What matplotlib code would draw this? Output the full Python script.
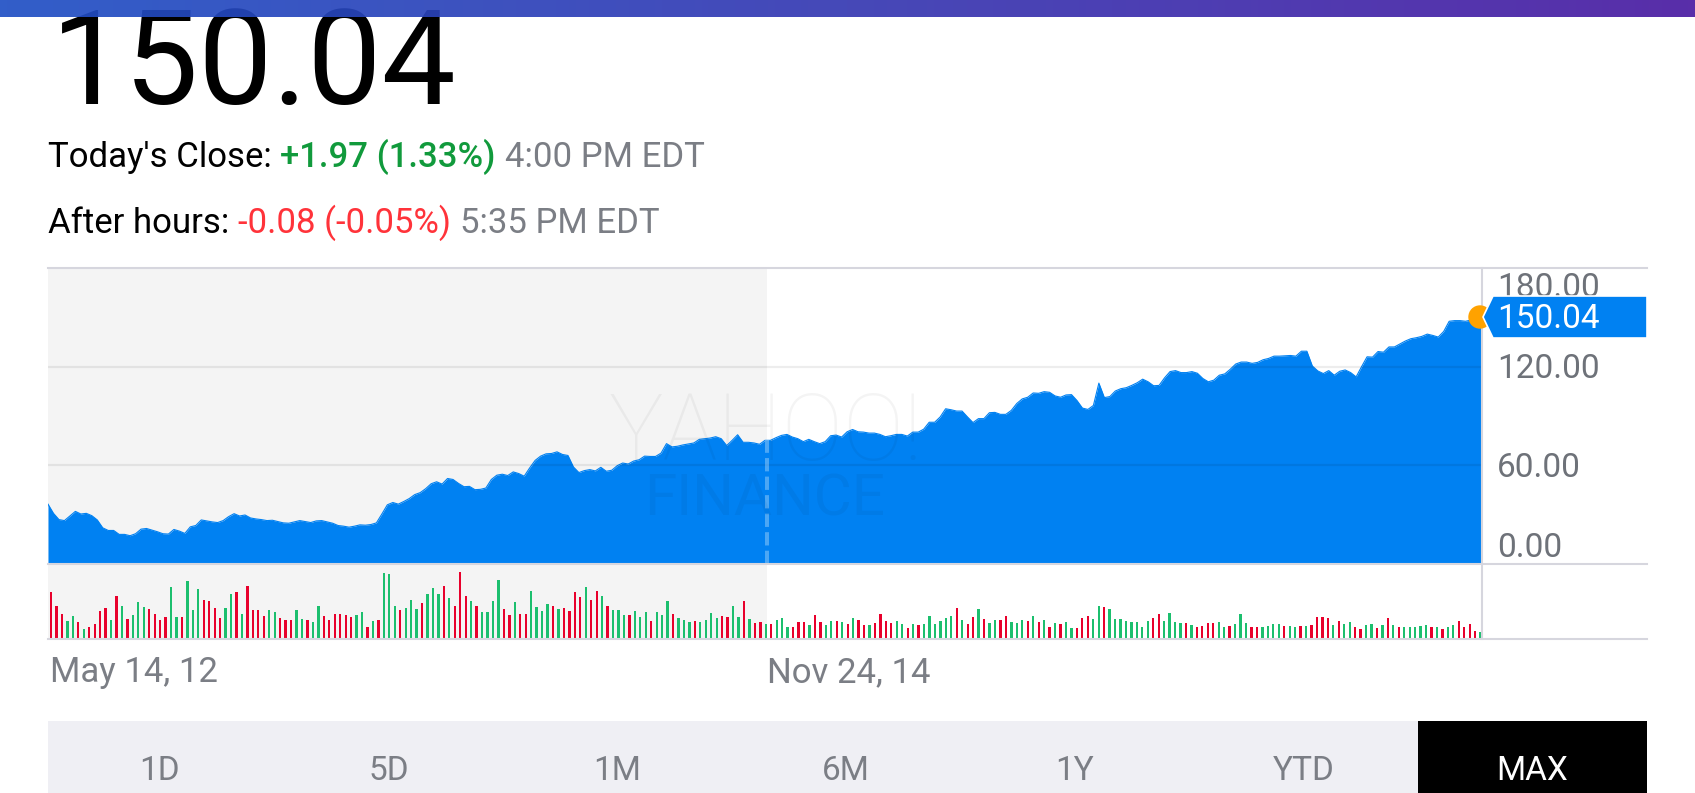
import numpy as np
import matplotlib
matplotlib.use("Agg")
import matplotlib.pyplot as plt
from matplotlib.patches import Rectangle, Polygon, Circle
from matplotlib.lines import Line2D
from matplotlib.transforms import Affine2D
from matplotlib.colors import LinearSegmentedColormap

plt.rcParams["font.family"] = ["Roboto", "DejaVu Sans"]

# weekly closing price, May 14 2012 onwards
price = [
    36.4, 30.8, 27.0, 26.4, 29.2, 32.0, 30.4, 30.8, 29.4, 26.8,
    22.0, 20.4, 20.4, 18.0, 18.0, 17.2, 18.4, 21.2, 21.6, 20.6,
    19.6, 18.4, 18.2, 21.0, 20.0, 18.6, 22.6, 23.4, 26.8, 26.2,
    25.6, 25.2, 26.4, 28.8, 30.6, 29.2, 29.8, 28.0, 27.4, 27.0,
    26.4, 26.6, 25.8, 25.0,
    24.8, 25.6, 26.4, 25.8, 25.2, 26.2, 26.4, 25.6, 24.8, 23.4,
    23.0, 22.4, 23.0, 23.8, 23.6, 24.0, 25.0, 30.4, 36.0, 37.4,
    36.4, 38.0, 39.8, 42.2, 43.4, 45.8, 48.8, 50.0, 48.6, 52.0,
    51.4, 49.0, 47.0, 47.2, 45.2, 45.4, 46.2, 51.4, 54.0, 54.6,
    53.8, 56.0, 55.0, 53.4,
    58.4, 63.0, 65.6, 67.0, 67.2, 68.2, 66.6, 66.0, 59.0, 55.6,
    56.8, 57.4, 56.6, 58.8, 56.4, 57.0, 59.8, 61.4, 60.8, 62.6,
    63.4, 65.6, 65.4, 65.4, 67.4, 73.2, 71.2, 71.6, 72.4, 73.0,
    73.6, 75.8, 76.2, 76.6, 77.4, 76.2, 72.0, 75.2, 78.6, 74.0,
    74.0, 73.6, 72.8,
    75.2, 75.2, 76.8, 78.2, 78.8, 77.2, 76.2, 74.4, 75.8, 74.4,
    73.2, 74.4, 78.0, 78.4, 77.2, 80.4, 81.8, 80.4, 80.2, 79.6,
    79.6, 78.8, 77.4, 78.0, 78.8, 78.8, 77.8, 80.2, 80.2, 82.0,
    86.2, 86.2, 89.4, 94.4, 93.8, 93.0, 93.0, 89.4, 86.0, 88.4,
    88.4, 92.0, 92.2, 91.0,
    91.0, 93.4, 97.6, 100.4, 101.4, 104.0, 103.8, 104.8, 104.4, 102.2,
    101.4, 102.8, 103.0, 99.4, 94.8, 94.0, 96.4, 110.0, 101.2, 101.8,
    105.2, 106.6, 107.2, 108.6, 110.2, 112.4, 110.8, 108.4, 108.6, 113.2,
    117.0, 117.6, 116.4, 116.4, 117.0, 116.0, 112.8, 110.8, 111.8, 114.8,
    115.6, 118.4, 121.6, 122.8,
    122.8, 122.0, 122.6, 124.2, 125.0, 126.4, 126.4, 126.6, 126.8, 126.4,
    129.4, 129.4, 120.4, 117.4, 115.8, 117.6, 114.8, 117.2, 118.0, 116.4,
    113.8, 120.0, 126.0, 125.8, 129.2, 128.8, 132.0, 132.0, 133.8, 135.6,
    137.0, 137.6, 138.4, 139.8, 139.0, 138.0, 141.4, 147.6, 148.0, 148.0,
    147.6, 148.4, 149.2, 150.04,
]

# weekly volume (millions) and up/down week flag
volume = [
    457, 323, 243, 167, 223, 160, 90, 110, 143, 267,
    300, 177, 423, 317, 190, 230, 363, 307, 290, 240,
    180, 210, 510, 210, 210, 573, 283, 493, 380, 373,
    300, 203, 300, 443, 460, 240, 517, 283, 283, 217,
    283, 260, 200, 177,
    183, 283, 193, 183, 160, 323, 217, 183, 243, 243,
    227, 210, 227, 260, 110, 167, 183, 650, 643, 323,
    277, 300, 377, 290, 350, 443, 500, 440, 517, 397,
    317, 657, 417, 370, 317, 263, 263, 370, 583, 290,
    227, 363, 243, 243,
    473, 307, 273, 337, 323, 290, 300, 273, 457, 413,
    513, 377, 467, 420, 323, 280, 280, 227, 227, 270,
    210, 263, 167, 263, 227, 367, 243, 200, 183, 157,
    167, 163, 183, 253, 200, 220, 207, 317, 210, 367,
    193, 153, 157, 140,
    143, 183, 203, 110, 107, 160, 163, 127, 233, 163,
    130, 167, 170, 157, 137, 200, 183, 127, 127, 150,
    240, 167, 147, 173, 140, 100, 143, 127, 140, 223,
    143, 167, 197, 220, 300, 183, 143, 210, 290, 190,
    150, 183, 183, 223,
    160, 150, 183, 167, 223, 163, 183, 107, 153, 143,
    163, 100, 103, 200, 223, 190, 317, 307, 290, 190,
    190, 170, 160, 160, 113, 170, 197, 240, 170, 253,
    163, 150, 153, 133, 107, 117, 153, 153, 163, 113,
    123, 140, 237, 150,
    110, 110, 110, 117, 140, 137, 123, 117, 107, 117,
    117, 130, 210, 210, 197, 130, 173, 143, 157, 110,
    93, 130, 143, 103, 133, 203, 130, 110, 113, 113,
    113, 123, 130, 110, 110, 90, 113, 130, 170, 110,
    140, 70, 63,
]
up = ("rrrggrgrrrrgrgrgggrrrrggrgggrrrrggrgrrrrggrr"
      "rggrggrrrrrrggrgrgggrgggrgggrgrrrgrggggrrgrr"
      "ggggrgrrrrgrrgrgggrgggrgggrgggrggggrrggrgrrg"
      "rgggrrrgrrggrgrgrrgrrrrggrgrggggggrgrrgrggrr"
      "gggrgrgrgrggrrrggrggggggggrrggggrgrrrrggrggg"
      "rrggggrggrgrrrrgrggrrggrgrgrgggggrgrggrrrrg")

date_ticks = [0, 131]
date_labels = ["May 14, 12", "Nov 24, 14"]
y_ticks = [0, 60, 120, 180]
last_close = 150.04
ranges = ["1D", "5D", "1M", "6M", "1Y", "YTD", "MAX"]

BLUE = "#0081f2"
GREEN_V = "#1cbf6e"
RED_V = "#e8002c"
GRAY = "#7b7e85"
FRAME = "#d6d6de"

W, H = 1695, 793
fig = plt.figure(figsize=(W / 100, H / 100), dpi=100)
fig.patch.set_facecolor("white")
T = Affine2D().scale(1 / W, -1 / H).translate(0, 1) + fig.transFigure

# shaded (older) part of the chart
fig.add_artist(Rectangle((48, 268), 767 - 48, 639 - 268, transform=T,
                         color="#f4f4f4", lw=0, zorder=-1))

ax = fig.add_axes([48 / W, 1 - 564 / H, 1434 / W, 296 / H])
ax.set_facecolor("none")
weeks = np.arange(len(price))
ax.fill_between(weeks, price, 0, color=BLUE, lw=0, zorder=2)
ax.plot(weeks, price, color=BLUE, lw=0.8, zorder=2)
for g in y_ticks[1:-1]:
    ax.axhline(g, color="k", alpha=0.07, lw=1.6, zorder=3)
ax.vlines(date_ticks[1] + 0.3, 0, price[date_ticks[1]], color="white", alpha=0.3,
          lw=2.9, linestyles=(0, (3.3, 1.3)), zorder=4)
ax.set_xlim(0, len(price) - 1)
ax.set_ylim(0, 180)
ax.axis("off")

ax.text(0.5, 1 - (460 - 268) / 296, "YAHOO!", transform=ax.transAxes, ha="center",
        va="baseline", fontsize=66, color="k", alpha=0.045, fontweight="light", zorder=5)
ax.text(0.5, 1 - (515 - 268) / 296, "FINANCE", transform=ax.transAxes, ha="center",
        va="baseline", fontsize=42, color="k", alpha=0.045, zorder=5)

axv = fig.add_axes([48 / W, 1 - 638 / H, 1434 / W, 74 / H])
axv.set_facecolor("none")
vcol = [GREEN_V if c == "g" else RED_V for c in up]
axv.bar(np.arange(len(volume)), volume, width=0.42, color=vcol, lw=0)
axv.set_xlim(-0.55, len(volume) - 0.75)
axv.set_ylim(0, 740)
axv.axis("off")

# frame lines
for (x0, y0, x1, y1) in [(48, 268, 1647, 268), (48, 564, 1647, 564),
                         (48, 639, 1647, 639), (1482, 268, 1482, 639)]:
    fig.add_artist(Line2D([x0, x1], [y0, y1], transform=T, color=FRAME, lw=1.5, zorder=6))

# right axis labels
ybase = {180: 297, 120: 378, 60: 477, 0: 557}
for v in y_ticks:
    fig.text(1497, ybase[v], f"{v:.2f}", transform=T, fontsize=24, color="#6e7279",
             va="baseline", ha="left", zorder=6)

# last price tag
fig.add_artist(Circle((1480, 317), 11, transform=T, color="#ffa200", zorder=7))
fig.add_artist(Polygon([(1483, 317), (1493, 296), (1647, 296), (1647, 338), (1493, 338)],
                       closed=True, transform=T, facecolor=BLUE, edgecolor="white",
                       lw=1.2, zorder=8))
fig.text(1497, 328, f"{last_close:.2f}", transform=T, fontsize=24, color="white",
         va="baseline", ha="left", zorder=9)

# date labels
for idx, lab in zip(date_ticks, date_labels):
    x = 48 + idx * 1434 / (len(price) - 1)
    fig.text(x + 2, 682, lab, transform=T, fontsize=25, color=GRAY, va="baseline", ha="left")

# range buttons
fig.add_artist(Rectangle((48, 721), 1647 - 48, 80, transform=T, color="#efeff4", lw=0))
fig.add_artist(Rectangle((1418, 721), 1647 - 1418, 80, transform=T, color="black", lw=0))
for k, r in enumerate(ranges):
    fig.text(160 + 228.7 * k, 780, r, transform=T, fontsize=24,
             color="white" if r == "MAX" else GRAY, ha="center", va="baseline")

# header
fig.text(51, 104, f"{last_close:.2f}", transform=T, fontsize=95, color="black",
         va="baseline", ha="left")
renderer = fig.canvas.get_renderer()


def run(x, y, parts, size=25):
    gap = 0.25 * size * 100 / 72
    for s, c, w in parts:
        t = fig.text(x, y, s, transform=T, fontsize=size, color=c, fontweight=w,
                     va="baseline", ha="left")
        x += t.get_window_extent(renderer).width + gap


run(48, 167, [("Today's Close:", "black", "normal"), ("+1.97 (1.33%)", "#119a3c", "medium"),
              ("4:00 PM EDT", GRAY, "normal")])
run(48, 233, [("After hours:", "black", "normal"), ("-0.08 (-0.05%)", "#ff333a", "normal"),
              ("5:35 PM EDT", GRAY, "normal")])

# top gradient bar
axb = fig.add_axes([0, 1 - 17 / H, 1, 17 / H], zorder=10)
grad = np.linspace(0, 1, 256).reshape(1, -1)
cm = LinearSegmentedColormap.from_list("bar", ["#1f4fc4", "#3538b2", "#4a1ba2"])
axb.imshow(grad, aspect="auto", cmap=cm, alpha=0.92)
axb.axis("off")

fig.savefig("out.png", dpi=100)
